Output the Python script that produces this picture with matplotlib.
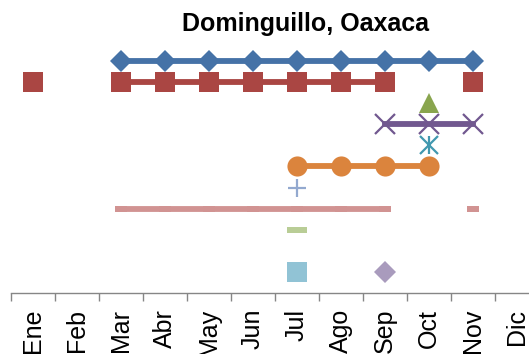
import numpy as np
import matplotlib
matplotlib.use("Agg")
import matplotlib.pyplot as plt

nan = np.nan
months = ["Ene", "Feb", "Mar", "Abr", "May", "Jun", "Jul", "Ago", "Sep", "Oct", "Nov", "Dic"]

# One row per series; value = row level where the month is present, NaN otherwise
s1 = [nan, nan, 11, 11, 11, 11, 11, 11, 11, 11, 11, nan]
s2 = [10, nan, 10, 10, 10, 10, 10, 10, 10, nan, 10, nan]
s3 = [nan, nan, nan, nan, nan, nan, nan, nan, nan, 9, nan, nan]
s4 = [nan, nan, nan, nan, nan, nan, nan, nan, 8, 8, 8, nan]
s5 = [nan, nan, nan, nan, nan, nan, nan, nan, nan, 7, nan, nan]
s6 = [nan, nan, nan, nan, nan, nan, 6, 6, 6, 6, nan, nan]
s7 = [nan, nan, nan, nan, nan, nan, 5, nan, nan, nan, nan, nan]
s8 = [nan, nan, 4, 4, 4, 4, 4, 4, 4, nan, 4, nan]
s9 = [nan, nan, nan, nan, nan, nan, 3, nan, nan, nan, nan, nan]
s10 = [nan, nan, nan, nan, nan, nan, nan, nan, 1, nan, nan, nan]
s11 = [nan, nan, nan, nan, nan, nan, 1, nan, nan, nan, nan, nan]

plt.rcParams["font.family"] = ["Liberation Sans", "DejaVu Sans"]

W, H = 529, 354
fig = plt.figure(figsize=(W / 100, H / 100), dpi=100)
ax = fig.add_axes([11 / W, (H - 293) / H, 528 / W, 274.3 / H])

x = np.arange(len(months))
LW = 4.2

dash = [(-2, -1), (2, -1), (2, 1), (-2, 1), (-2, -1)]
long_dash = [(-4, -1), (4, -1), (4, 1), (-4, 1), (-4, -1)]

ax.plot(x, s1, color="#4572A7", lw=LW, marker="D", ms=11.2, mew=0)
ax.plot(x, s2, color="#AA4643", lw=LW, marker="s", ms=14.2, mew=0)
ax.plot(x, s3, color="#89A54E", lw=LW, marker="^", ms=14.5, mew=0)
ax.plot(x, s4, color="#71588F", lw=LW, marker="x", ms=14.5, mew=1.6)
ax.plot(x, s5, color="#4198AF", lw=0, marker="x", ms=12.5, mew=1.6)
ax.plot(x, s5, color="#4198AF", lw=0, marker="|", ms=13.5, mew=1.6)
ax.plot(x, s6, color="#DB843D", lw=LW, marker="o", ms=14.5, mew=0)
ax.plot(x, s7, color="#93A9CF", lw=0, marker="+", ms=13.5, mew=1.6)
ax.plot(x, s8, color="#D19392", lw=LW, marker=dash, ms=8.5, mew=0,
        solid_capstyle="round")
ax.plot(x, s9, color="#B9CD96", lw=0, marker=long_dash, ms=15, mew=0)
ax.plot(x, s10, color="#A99BBD", lw=0, marker="D", ms=10.8, mew=0)
ax.plot(x, s11, color="#91C3D5", lw=0, marker="s", ms=14.2, mew=0)

ax.set_xlim(-0.5, len(months) - 0.5)
ax.set_ylim(0, 13)

for side in ("left", "right", "top"):
    ax.spines[side].set_visible(False)
ax.spines["bottom"].set_color("#868686")
ax.spines["bottom"].set_linewidth(1.0)

ax.set_yticks([])
ax.set_xticks(np.arange(-0.5, len(months), 1.0))
ax.set_xticklabels([])
ax.set_xticks(x, minor=True)
ax.set_xticklabels(months, minor=True, rotation=90, fontsize=18, va="top")
ax.tick_params(axis="x", which="major", direction="out", length=6,
               width=1.0, color="#868686")
ax.tick_params(axis="x", which="minor", length=0, pad=11.5)

fig.text(306 / W, 1 - 31 / H, "Dominguillo, Oaxaca", ha="center",
         va="baseline", fontsize=18, fontweight="bold")

fig.savefig("out.png", dpi=100)
